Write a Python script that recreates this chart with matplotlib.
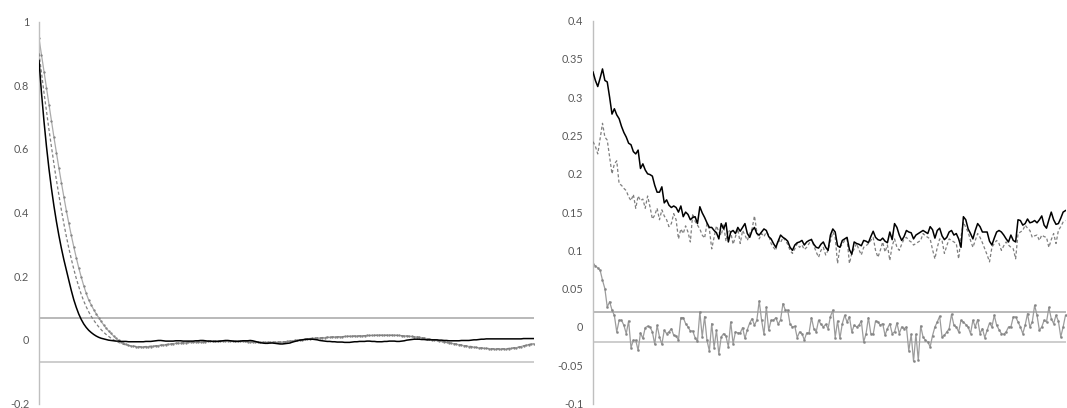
import numpy as np
import matplotlib
matplotlib.use("Agg")
import matplotlib.pyplot as plt

plt.rcParams['font.family'] = ['Lato', 'DejaVu Sans']

# ---- left panel: autocorrelation, 200 lags ----
left_black = [
    0.877, 0.776, 0.687, 0.608, 0.538, 0.476, 0.421, 0.372, 0.328, 0.288,
    0.252, 0.219, 0.187, 0.155, 0.126, 0.102, 0.081, 0.064, 0.050, 0.039,
    0.030, 0.023, 0.017, 0.012, 0.008, 0.005, 0.003, 0.001, -0.001, -0.002,
    -0.003, -0.004, -0.004, -0.005, -0.005, -0.005, -0.006, -0.006, -0.006, -0.006,
    -0.006, -0.006, -0.006, -0.005, -0.005, -0.005, -0.004, -0.003, -0.002, -0.002,
    -0.003, -0.004, -0.004, -0.004, -0.004, -0.003, -0.003, -0.003, -0.004, -0.004,
    -0.004, -0.004, -0.004, -0.003, -0.003, -0.002, -0.002, -0.003, -0.004, -0.004,
    -0.005, -0.005, -0.005, -0.004, -0.003, -0.002, -0.002, -0.003, -0.004, -0.005,
    -0.005, -0.004, -0.003, -0.003, -0.003, -0.002, -0.003, -0.005, -0.007, -0.009,
    -0.010, -0.011, -0.011, -0.010, -0.010, -0.011, -0.012, -0.013, -0.013, -0.012,
    -0.011, -0.010, -0.007, -0.005, -0.003, -0.001, 0.000, 0.001, 0.002, 0.002,
    0.002, 0.001, 0.000, -0.002, -0.003, -0.004, -0.005, -0.005, -0.006, -0.006,
    -0.007, -0.007, -0.007, -0.008, -0.008, -0.008, -0.007, -0.006, -0.006, -0.005,
    -0.005, -0.005, -0.004, -0.004, -0.005, -0.005, -0.006, -0.006, -0.006, -0.005,
    -0.005, -0.004, -0.004, -0.004, -0.005, -0.005, -0.004, -0.003, -0.001, 0.000,
    0.001, 0.002, 0.002, 0.002, 0.001, 0.001, 0.000, 0.000, 0.000, 0.000,
    0.000, -0.001, -0.001, -0.002, -0.002, -0.003, -0.003, -0.003, -0.003, -0.003,
    -0.002, -0.002, -0.002, -0.002, -0.001, 0.000, 0.000, 0.001, 0.002, 0.002,
    0.003, 0.003, 0.003, 0.003, 0.003, 0.003, 0.003, 0.003, 0.003, 0.003,
    0.003, 0.003, 0.003, 0.003, 0.003, 0.004, 0.004, 0.004, 0.004, 0.004,
]
left_dashed = [
    0.900, 0.838, 0.777, 0.718, 0.661, 0.606, 0.553, 0.502, 0.454, 0.408,
    0.365, 0.325, 0.288, 0.254, 0.222, 0.193, 0.167, 0.143, 0.122, 0.104,
    0.088, 0.074, 0.062, 0.051, 0.041, 0.032, 0.024, 0.017, 0.011, 0.005,
    0.000, -0.004, -0.008, -0.011, -0.014, -0.016, -0.018, -0.019, -0.020, -0.021,
    -0.021, -0.022, -0.022, -0.021, -0.021, -0.020, -0.020, -0.019, -0.018, -0.017,
    -0.016, -0.015, -0.014, -0.013, -0.012, -0.011, -0.011, -0.010, -0.009, -0.009,
    -0.008, -0.008, -0.008, -0.007, -0.007, -0.006, -0.006, -0.005, -0.005, -0.005,
    -0.004, -0.004, -0.004, -0.003, -0.003, -0.003, -0.003, -0.004, -0.004, -0.004,
    -0.004, -0.005, -0.005, -0.006, -0.006, -0.006, -0.007, -0.007, -0.008, -0.008,
    -0.008, -0.008, -0.008, -0.008, -0.008, -0.007, -0.007, -0.007, -0.006, -0.006,
    -0.005, -0.004, -0.003, -0.002, -0.001, 0.000, 0.001, 0.002, 0.003, 0.004,
    0.004, 0.005, 0.006, 0.006, 0.007, 0.007, 0.008, 0.008, 0.009, 0.009,
    0.009, 0.010, 0.010, 0.010, 0.011, 0.011, 0.011, 0.012, 0.012, 0.012,
    0.013, 0.013, 0.013, 0.013, 0.014, 0.014, 0.014, 0.014, 0.014, 0.014,
    0.014, 0.014, 0.014, 0.014, 0.014, 0.013, 0.013, 0.012, 0.012, 0.011,
    0.010, 0.010, 0.009, 0.008, 0.007, 0.005, 0.004, 0.003, 0.001, 0.000,
    -0.002, -0.003, -0.005, -0.006, -0.008, -0.009, -0.011, -0.012, -0.013, -0.015,
    -0.016, -0.018, -0.019, -0.020, -0.021, -0.023, -0.024, -0.025, -0.025, -0.026,
    -0.027, -0.027, -0.028, -0.028, -0.028, -0.028, -0.028, -0.028, -0.028, -0.027,
    -0.026, -0.025, -0.024, -0.023, -0.021, -0.019, -0.017, -0.015, -0.014, -0.012,
]
left_marked = [
    0.947, 0.895, 0.842, 0.790, 0.738, 0.687, 0.637, 0.588, 0.540, 0.494,
    0.449, 0.406, 0.366, 0.328, 0.292, 0.258, 0.226, 0.197, 0.170, 0.146,
    0.125, 0.110, 0.095, 0.082, 0.070, 0.058, 0.047, 0.037, 0.028, 0.020,
    0.012, 0.005, -0.001, -0.006, -0.010, -0.014, -0.017, -0.019, -0.020, -0.021,
    -0.022, -0.022, -0.022, -0.022, -0.021, -0.021, -0.020, -0.019, -0.018, -0.017,
    -0.016, -0.015, -0.014, -0.013, -0.012, -0.011, -0.010, -0.010, -0.009, -0.009,
    -0.008, -0.008, -0.007, -0.007, -0.007, -0.007, -0.006, -0.006, -0.005, -0.005,
    -0.004, -0.004, -0.003, -0.003, -0.003, -0.003, -0.003, -0.003, -0.003, -0.003,
    -0.004, -0.004, -0.005, -0.005, -0.006, -0.006, -0.007, -0.007, -0.007, -0.008,
    -0.008, -0.008, -0.008, -0.008, -0.008, -0.008, -0.008, -0.007, -0.007, -0.006,
    -0.005, -0.004, -0.003, -0.002, -0.001, 0.000, 0.001, 0.002, 0.003, 0.004,
    0.005, 0.005, 0.006, 0.006, 0.007, 0.007, 0.008, 0.008, 0.009, 0.009,
    0.010, 0.010, 0.010, 0.011, 0.011, 0.011, 0.012, 0.012, 0.012, 0.013,
    0.013, 0.013, 0.014, 0.014, 0.014, 0.014, 0.015, 0.015, 0.015, 0.015,
    0.015, 0.015, 0.015, 0.015, 0.014, 0.014, 0.013, 0.013, 0.012, 0.011,
    0.011, 0.010, 0.009, 0.008, 0.007, 0.006, 0.004, 0.003, 0.001, 0.000,
    -0.002, -0.003, -0.005, -0.006, -0.008, -0.009, -0.011, -0.012, -0.014, -0.015,
    -0.017, -0.018, -0.019, -0.021, -0.022, -0.023, -0.024, -0.025, -0.026, -0.027,
    -0.027, -0.028, -0.028, -0.029, -0.029, -0.029, -0.029, -0.029, -0.029, -0.028,
    -0.027, -0.026, -0.025, -0.023, -0.021, -0.019, -0.017, -0.015, -0.013, -0.012,
]
left_band = 0.07
left_ticks = [-0.2, 0, 0.2, 0.4, 0.6, 0.8, 1]
left_labels = ["-0.2", "0", "0.2", "0.4", "0.6", "0.8", "1"]

# ---- right panel ----
right_black = [
    0.333, 0.322, 0.314, 0.325, 0.337, 0.322, 0.320, 0.300, 0.278, 0.285,
    0.277, 0.272, 0.262, 0.254, 0.248, 0.240, 0.238, 0.229, 0.226, 0.231,
    0.207, 0.213, 0.205, 0.200, 0.199, 0.197, 0.185, 0.176, 0.176, 0.183,
    0.162, 0.166, 0.159, 0.156, 0.158, 0.156, 0.150, 0.158, 0.144, 0.150,
    0.147, 0.140, 0.143, 0.144, 0.135, 0.157, 0.149, 0.143, 0.136, 0.130,
    0.130, 0.126, 0.123, 0.115, 0.135, 0.128, 0.136, 0.111, 0.124, 0.126,
    0.122, 0.130, 0.125, 0.130, 0.135, 0.122, 0.117, 0.126, 0.130, 0.122,
    0.120, 0.124, 0.128, 0.126, 0.118, 0.115, 0.109, 0.104, 0.112, 0.120,
    0.117, 0.115, 0.112, 0.104, 0.100, 0.107, 0.110, 0.111, 0.113, 0.107,
    0.111, 0.113, 0.114, 0.108, 0.104, 0.103, 0.108, 0.111, 0.104, 0.100,
    0.120, 0.128, 0.124, 0.106, 0.104, 0.113, 0.115, 0.117, 0.101, 0.095,
    0.111, 0.109, 0.108, 0.106, 0.113, 0.112, 0.110, 0.118, 0.125, 0.117,
    0.114, 0.113, 0.116, 0.112, 0.110, 0.124, 0.114, 0.135, 0.130, 0.120,
    0.113, 0.118, 0.126, 0.124, 0.123, 0.115, 0.120, 0.122, 0.124, 0.126,
    0.124, 0.122, 0.131, 0.127, 0.116, 0.126, 0.129, 0.119, 0.114, 0.117,
    0.124, 0.126, 0.120, 0.122, 0.115, 0.104, 0.144, 0.140, 0.128, 0.122,
    0.115, 0.126, 0.135, 0.131, 0.124, 0.124, 0.124, 0.112, 0.107, 0.116,
    0.124, 0.126, 0.124, 0.120, 0.115, 0.111, 0.120, 0.113, 0.111, 0.140,
    0.139, 0.133, 0.135, 0.141, 0.136, 0.137, 0.139, 0.136, 0.140, 0.145,
    0.133, 0.129, 0.140, 0.150, 0.140, 0.134, 0.135, 0.142, 0.150, 0.152,
]
right_dashed = [
    0.242, 0.236, 0.226, 0.246, 0.266, 0.248, 0.244, 0.222, 0.200, 0.213,
    0.217, 0.187, 0.185, 0.181, 0.178, 0.170, 0.165, 0.173, 0.155, 0.171,
    0.165, 0.167, 0.155, 0.171, 0.157, 0.141, 0.146, 0.155, 0.140, 0.153,
    0.145, 0.140, 0.131, 0.135, 0.148, 0.140, 0.115, 0.128, 0.122, 0.132,
    0.124, 0.111, 0.148, 0.138, 0.133, 0.128, 0.120, 0.116, 0.135, 0.128,
    0.102, 0.117, 0.132, 0.124, 0.120, 0.133, 0.112, 0.127, 0.124, 0.108,
    0.118, 0.128, 0.109, 0.126, 0.120, 0.113, 0.122, 0.128, 0.145, 0.124,
    0.115, 0.122, 0.118, 0.124, 0.120, 0.109, 0.104, 0.100, 0.115, 0.110,
    0.117, 0.113, 0.108, 0.100, 0.096, 0.102, 0.109, 0.104, 0.107, 0.101,
    0.104, 0.109, 0.115, 0.106, 0.098, 0.091, 0.100, 0.104, 0.094, 0.100,
    0.112, 0.124, 0.117, 0.083, 0.104, 0.108, 0.113, 0.115, 0.083, 0.096,
    0.102, 0.109, 0.101, 0.094, 0.104, 0.106, 0.109, 0.113, 0.117, 0.100,
    0.091, 0.100, 0.111, 0.098, 0.107, 0.087, 0.106, 0.115, 0.104, 0.100,
    0.108, 0.115, 0.117, 0.113, 0.111, 0.107, 0.109, 0.111, 0.113, 0.122,
    0.119, 0.117, 0.115, 0.101, 0.089, 0.104, 0.115, 0.113, 0.096, 0.106,
    0.115, 0.113, 0.111, 0.109, 0.089, 0.118, 0.137, 0.130, 0.124, 0.113,
    0.104, 0.113, 0.122, 0.117, 0.110, 0.102, 0.094, 0.085, 0.104, 0.109,
    0.113, 0.109, 0.100, 0.106, 0.111, 0.107, 0.104, 0.102, 0.089, 0.122,
    0.124, 0.126, 0.133, 0.129, 0.126, 0.117, 0.119, 0.120, 0.113, 0.120,
    0.118, 0.117, 0.104, 0.114, 0.122, 0.109, 0.126, 0.131, 0.137, 0.139,
]
right_marked = [
    0.082, 0.080, 0.077,
    0.074, 0.061, 0.050, 0.026, 0.033, 0.022, 0.015, -0.0065, 0.0087, 0.0087,
    0.0022, -0.0087, 0.0078, -0.027, -0.0174, -0.0174, -0.0305, -0.0078, -0.015, -0.0009,
    0.0009, 0.0, -0.0065, -0.0226, 0.0022, -0.013, -0.0226, -0.0043, -0.0087, -0.0065,
    -0.0022, -0.011, -0.012, -0.017, 0.0122, 0.0122, 0.0044, 0.0, -0.0052, -0.0052,
    -0.014, -0.019, 0.0196, -0.013, 0.0135, -0.0174, -0.0314, 0.0044, -0.027, -0.0043,
    -0.0357, -0.013, -0.0087, -0.012, -0.026, 0.0065, -0.022, -0.0065, -0.0078, -0.0078,
    -0.0009, -0.015, -0.0035, 0.0052, 0.0109, 0.0022, 0.0087, 0.034, 0.0087, -0.0096,
    0.026, -0.0043, 0.0087, 0.0087, 0.0122, 0.0035, 0.0095, 0.0305, 0.022, 0.022,
    0.0035, 0.0, 0.0009, -0.014, -0.0065, -0.0087, -0.017, -0.0078, -0.0078, 0.0122,
    -0.0022, -0.0065, 0.0087, 0.0035, 0.0, 0.0035, -0.0022, 0.0135, 0.022, -0.014,
    0.0078, -0.015, 0.0044, 0.0152,
    0.0065, 0.0131, -0.0065, 0.0022, 0.0, 0.0022, 0.0078, -0.0196, -0.0087, 0.0122,
    -0.0087, -0.0096, 0.0078, 0.0065, 0.0022, 0.0044, -0.0109, -0.0022, 0.0044, -0.0087,
    -0.0065, 0.0052, -0.0087, 0.0, -0.0022, 0.0, -0.0313, -0.0096, -0.0448, -0.0096,
    -0.0435, 0.0013, -0.013, -0.0174, -0.0196, -0.026, -0.0113, 0.0, 0.0065, 0.014,
    -0.013, -0.0109, -0.0065, -0.0022, 0.0166, 0.0022, 0.0, -0.0065, 0.0087, 0.0065,
    0.0031, 0.0, -0.0087, 0.0087, 0.0, 0.0096, -0.0087, -0.0022, -0.0139, -0.0044,
    0.0052, 0.0, 0.0153, 0.0022, -0.0035, -0.0087, -0.0096, -0.0065, 0.0, 0.0,
    0.0131, 0.0131, 0.0065, 0.0, -0.0087, 0.0022, 0.0174, 0.0, 0.0065, 0.0283,
    0.0153, -0.0044, 0.0, 0.0087, 0.0065, 0.0254, 0.0109, 0.0044, 0.0153, 0.0078,
    -0.013, 0.0, 0.0153,
]
right_band = 0.02
right_ticks = [-0.1, -0.05, 0, 0.05, 0.1, 0.15, 0.2, 0.25, 0.3, 0.35, 0.4]
right_labels = ["-0.1", "-0.05", "0", "0.05", "0.1", "0.15", "0.2", "0.25", "0.3", "0.35", "0.4"]

W, H = 1067, 408
fig = plt.figure(figsize=(W / 100, H / 100), dpi=100)

ax1 = fig.add_axes([39 / W, 1 - 403.5 / H, 494.5 / W, 382 / H])
ax2 = fig.add_axes([593 / W, 1 - 403.5 / H, 472.5 / W, 382.8 / H])


def draw_panel(ax, black, dashed, marked, band, ticks, labels, ylim, ms, mline):
    n = max(len(black), len(dashed), len(marked))
    ax.axhline(band, color="#a6a6a6", lw=1.1, zorder=1)
    ax.axhline(-band, color="#c0c0c0", lw=1.1, zorder=1)
    ax.plot(np.arange(len(marked)), marked, color=mline, lw=0.9,
            marker="o", ms=ms, mfc="#858585", mec="#858585", mew=0.3, zorder=2)
    ax.plot(np.arange(len(dashed)), dashed, color="#7f7f7f", lw=0.9,
            linestyle=(0, (2.5, 1.8)), zorder=3)
    ax.plot(np.arange(len(black)), black, color="black", lw=1.1, zorder=4)
    ax.set_xlim(0, n - 1)
    ax.set_ylim(*ylim)
    ax.set_yticks(ticks)
    ax.set_yticklabels(labels)
    ax.set_xticks([])
    for side in ("top", "right", "bottom"):
        ax.spines[side].set_visible(False)
    ax.spines["left"].set_color("#bfbfbf")
    ax.spines["left"].set_linewidth(1.0)
    ax.tick_params(axis="y", length=0, pad=7, labelsize=7.8, labelcolor="#595959")
    ax.patch.set_alpha(0)


draw_panel(ax1, left_black, left_dashed, left_marked, left_band,
           left_ticks, left_labels, (-0.2, 1.0), 1.3, "#ababab")
draw_panel(ax2, right_black, right_dashed, right_marked, right_band,
           right_ticks, right_labels, (-0.1, 0.4), 1.5, "#9c9c9c")

fig.savefig("out.png", dpi=100)
